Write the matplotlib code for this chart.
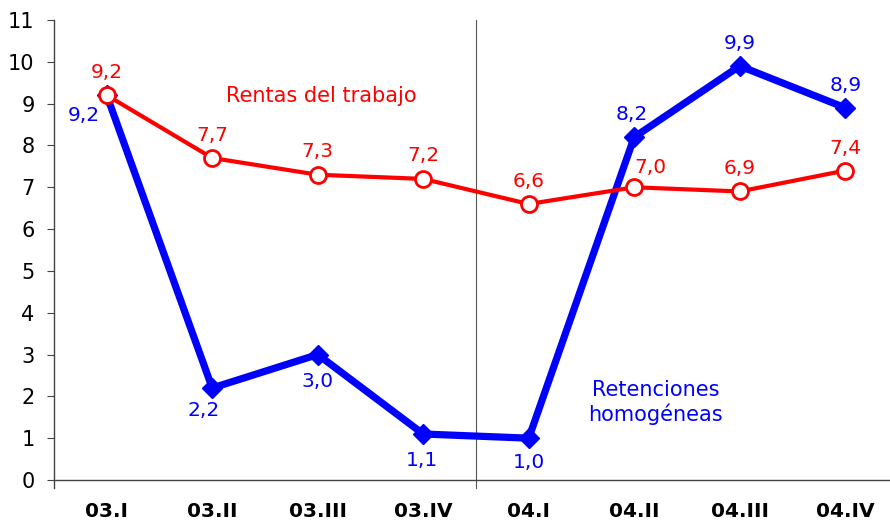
import numpy as np
import matplotlib.pyplot as plt

categories = ['03.I', '03.II', '03.III', '03.IV', '04.I', '04.II', '04.III', '04.IV']
rentas = [9.2, 7.7, 7.3, 7.2, 6.6, 7.0, 6.9, 7.4]
retenciones = [9.2, 2.2, 3.0, 1.1, 1.0, 8.2, 9.9, 8.9]

# label offsets in pixels (dx, dy) relative to each point
rentas_off = [(0, 23), (0, 23), (0, 23), (0, 23), (0, 23), (16, 20), (0, 23), (0, 22)]
ret_off = [(-23, -20), (-9, -23), (0, -27), (-1, -26), (0, -24), (-3, 23), (0, 23), (0, 22)]

red = '#ff0000'
blue = '#0000ff'
px = 0.72  # pixels -> points at dpi 100

fig = plt.figure(figsize=(8.9, 5.21), dpi=100)
ax = fig.add_axes([54 / 890, 41 / 521, 844 / 890, 460 / 521])
x = np.arange(len(categories))

ax.plot(x, retenciones, color=blue, lw=5.2, marker='D', ms=10, mfc=blue, mec=blue,
        solid_joinstyle='miter', zorder=3)
ax.plot(x, rentas, color=red, lw=3, marker='o', ms=11.5, mfc='white', mec=red, mew=2,
        zorder=4)

for xi, v, (dx, dy) in zip(x, rentas, rentas_off):
    ax.annotate(f'{v:.1f}'.replace('.', ','), (xi, v), xytext=(dx * px, dy * px),
                textcoords='offset points', ha='center', va='center', color=red, fontsize=14.5)
for xi, v, (dx, dy) in zip(x, retenciones, ret_off):
    ax.annotate(f'{v:.1f}'.replace('.', ','), (xi, v), xytext=(dx * px, dy * px),
                textcoords='offset points', ha='center', va='center', color=blue, fontsize=14.5)

ax.text(2.03, 9.18, 'Rentas del trabajo', color=red, fontsize=15, ha='center', va='center')
ax.text(5.2, 1.86, 'Retenciones\nhomogéneas', color=blue, fontsize=15, ha='center', va='center',
        linespacing=1.2)

# separator between 2003 and 2004
ax.plot([3.5, 3.5], [-0.18, 11], color='#555555', lw=0.8, clip_on=False, zorder=1)

ax.set_xlim(-0.5, 7.5)
ax.set_ylim(0, 11)
ax.set_yticks(range(0, 12))
ax.set_xticks(x)
ax.set_xticklabels(categories, fontweight='bold', fontsize=14.5)
ax.tick_params(axis='x', length=0, pad=16)
ax.tick_params(axis='y', length=5, direction='out', color='#444444', labelsize=15, pad=9)
for s in ['top', 'right']:
    ax.spines[s].set_visible(False)
for s in ['left', 'bottom']:
    ax.spines[s].set_color('#444444')
    ax.spines[s].set_linewidth(1)
ax.spines['left'].set_bounds(-0.18, 11)

fig.savefig('out.png', dpi=100)
